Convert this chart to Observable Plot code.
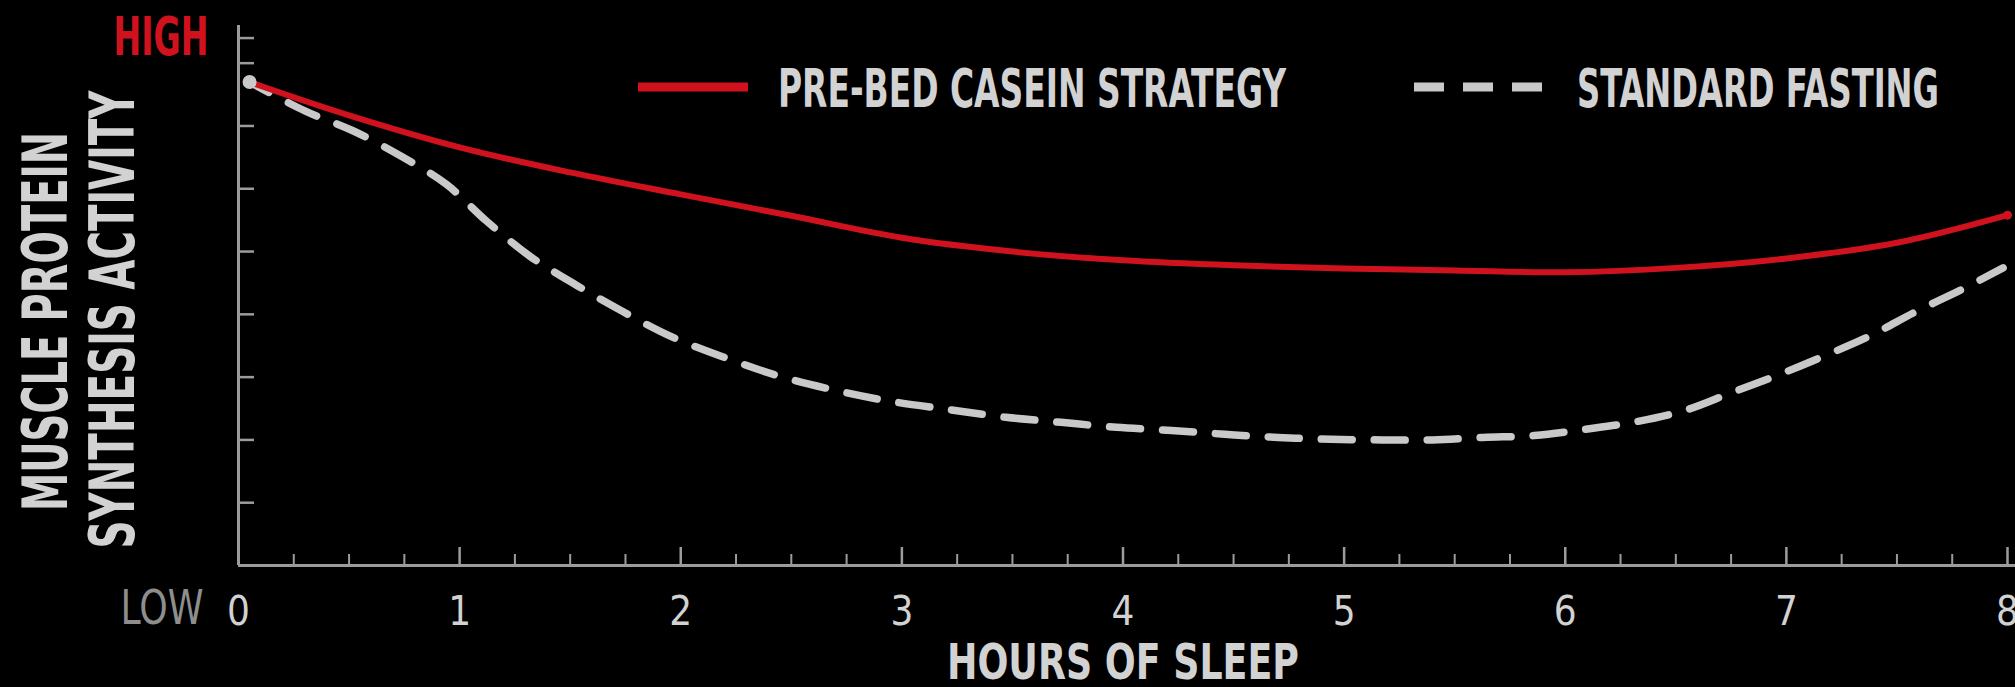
<!DOCTYPE html>
<html><head><meta charset="utf-8">
<script src="https://cdn.jsdelivr.net/npm/d3@7"></script>
<script src="https://cdn.jsdelivr.net/npm/@observablehq/plot@0.6"></script>
<style>
html,body{margin:0;padding:0;background:#000;}
#chart{width:2015px;height:687px;overflow:hidden;background:#000}
svg{display:block}
</style></head><body><div id="chart"></div>
<script>
// ---- data ----
const caseinHours  = [0.05, 0.5, 1, 1.5, 2, 2.5, 3, 3.5, 4, 4.5, 5, 5.5, 6, 6.5, 7, 7.5, 8];
const caseinValues = [7.70, 7.17, 6.66, 6.26, 5.91, 5.57, 5.22, 5.00, 4.86, 4.78, 4.73, 4.70, 4.67, 4.74, 4.89, 5.14, 5.58];
const fastingHours  = [0.05, 0.3, 0.52, 0.74, 0.94, 1.12, 1.32, 1.53, 1.74, 1.96, 2.2, 2.45, 2.7, 2.94, 3.22, 3.47, 3.72, 3.97, 4.22, 4.46, 4.7, 4.94, 5.17, 5.4, 5.63, 5.86, 6.09, 6.32, 6.54, 6.75, 6.96, 7.18, 7.38, 7.59, 7.79, 7.98];
const fastingValues = [7.70, 7.24, 6.92, 6.51, 6.07, 5.49, 4.92, 4.46, 4.04, 3.64, 3.31, 3.01, 2.79, 2.62, 2.48, 2.36, 2.28, 2.20, 2.15, 2.09, 2.04, 2.01, 2.00, 2.00, 2.04, 2.07, 2.17, 2.29, 2.47, 2.75, 3.03, 3.35, 3.66, 4.05, 4.39, 4.74];
const seriesNames = ["PRE-BED CASEIN STRATEGY", "STANDARD FASTING"];
const xMajorTicks = [0, 1, 2, 3, 4, 5, 6, 7, 8];
const xTickLabels = ["0", "1", "2", "3", "4", "5", "6", "7", "8"];
const xMinorTicks = [0.25,0.5,0.75,1.25,1.5,1.75,2.25,2.5,2.75,3.25,3.5,3.75,4.25,4.5,4.75,5.25,5.5,5.75,6.25,6.5,6.75,7.25,7.5,7.75];
const yTicks = [1, 2, 3, 4, 5, 6, 7, 8];
const yEndLabels = [{label: "HIGH", value: 8.4}, {label: "LOW", value: 0}];
const yTitleLines = ["MUSCLE PROTEIN", "SYNTHESIS ACTIVITY"];
const xTitle = "HOURS OF SLEEP";

// ---- styling ----
const FONT = "'Liberation Sans Narrow', 'DejaVu Sans Condensed', 'DejaVu Sans', sans-serif";
const RED = "#d0121f", GRAY = "#c9c9c9", AXIS = "#9c9c9c", TEXT = "#d2d2d2";

const casein = caseinHours.map((h, i) => ({h, v: caseinValues[i]}));
const fasting = fastingHours.map((h, i) => ({h, v: fastingValues[i]}));

const plot = Plot.plot({
  width: 2015, height: 687,
  marginLeft: 238, marginRight: 8, marginTop: 25, marginBottom: 122,
  style: {background: "#000", color: TEXT, fontFamily: FONT, overflow: "visible"},
  x: {domain: [0, 8]},
  y: {domain: [0, 8.6]},
  marks: [
    Plot.ruleY([0], {stroke: AXIS, strokeWidth: 3, insetRight: -10}),
    Plot.ruleX([0], {stroke: AXIS, strokeWidth: 3}),
    Plot.axisX({ticks: xMinorTicks, tickSize: -11, stroke: AXIS, strokeWidth: 2, fill: "none", label: null}),
    Plot.axisX({ticks: xMajorTicks, tickSize: -18, stroke: AXIS, strokeWidth: 2.5, fill: "none", label: null}),
    Plot.axisX({ticks: xMajorTicks, tickSize: 0, tickPadding: 31, tickFormat: d => xTickLabels[xMajorTicks.indexOf(d)],
      fontSize: 40, fill: TEXT, label: null}),
    Plot.axisY({ticks: [...yTicks, yEndLabels[0].value], tickSize: -16, stroke: AXIS, strokeWidth: 2.5, fill: "none", label: null}),
    Plot.line(fasting, {x: "h", y: "v", stroke: GRAY, strokeWidth: 7.5, strokeDasharray: "31,22", strokeDashoffset: 9, curve: "catmull-rom"}),
    Plot.line(casein, {x: "h", y: "v", stroke: RED, strokeWidth: 6, curve: "catmull-rom"}),
    Plot.dot([fasting[0]], {x: "h", y: "v", r: 7, fill: GRAY}),
    Plot.dot([casein[casein.length - 1]], {x: "h", y: "v", r: 4.5, fill: RED}),
    // HIGH / LOW end labels
    Plot.text([yEndLabels[0]], {text: "label", y: "value", frameAnchor: "left", dx: -30, textAnchor: "end",
      lineAnchor: "middle", fontSize: 53, fontWeight: "bold", fill: RED}),
    Plot.text([yEndLabels[1]], {text: "label", y: "value", frameAnchor: "left", dx: -35, dy: 24, textAnchor: "end",
      lineAnchor: "top", fontSize: 48, fill: "#8e8e8e"}),
    // y title (two rotated lines)
    Plot.text([yTitleLines[0]], {text: d => d, frameAnchor: "left", dx: -172, dy: 26, rotate: -90,
      textAnchor: "middle", lineAnchor: "bottom", fontSize: 62, fontWeight: "bold", fill: TEXT}),
    Plot.text([yTitleLines[1]], {text: d => d, frameAnchor: "left", dx: -105, dy: 24, rotate: -90,
      textAnchor: "middle", lineAnchor: "bottom", fontSize: 62, fontWeight: "bold", fill: TEXT}),
    // x title
    Plot.text([xTitle], {text: d => d, frameAnchor: "bottom", dy: 113, lineAnchor: "bottom",
      fontSize: 50, fontWeight: "bold", fill: TEXT})
  ]
});

// legend inside the plot area, top
const svg = d3.select(plot);
const lg = svg.append("g").attr("font-family", FONT).attr("text-anchor", "start");
const legendItems = [
  {label: seriesNames[0], color: RED, dash: null, x0: 638, x1: 748, tx: 778},
  {label: seriesNames[1], color: GRAY, dash: "30,19", x0: 1414, x1: 1545, tx: 1577}
];
legendItems.forEach(it => {
  lg.append("line").attr("x1", it.x0).attr("x2", it.x1).attr("y1", 87).attr("y2", 87)
    .attr("stroke", it.color).attr("stroke-width", 9).attr("stroke-dasharray", it.dash);
  lg.append("text").attr("x", it.tx).attr("y", 107).attr("font-size", 54).attr("font-weight", "bold")
    .attr("text-anchor", "start").attr("fill", TEXT).text(it.label);
});

// condensed widths as in the reference
const widths = {"MUSCLE PROTEIN": 379, "SYNTHESIS ACTIVITY": 458, "HIGH": 95, "LOW": 83,
  "HOURS OF SLEEP": 352, "PRE-BED CASEIN STRATEGY": 508, "STANDARD FASTING": 362};
svg.selectAll("text").each(function() {
  const t = this.textContent;
  if (widths[t]) {
    this.setAttribute("textLength", widths[t]);
    this.setAttribute("lengthAdjust", "spacingAndGlyphs");
  }
});

document.getElementById("chart").appendChild(plot);
</script></body></html>
